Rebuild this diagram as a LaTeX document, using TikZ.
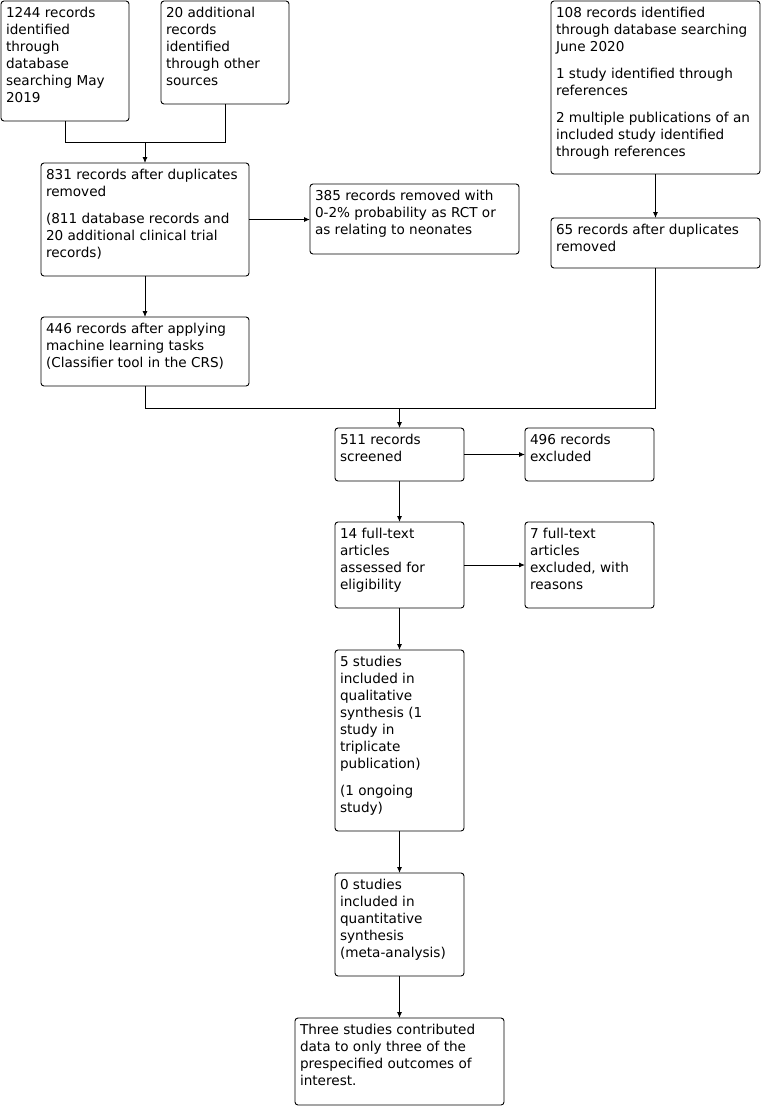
\documentclass[tikz,border=0pt]{standalone}
\usepackage{fontspec}
\setmainfont{DejaVu Sans}
\usetikzlibrary{arrows.meta}
\tikzset{
  pbox/.style={draw=black, line width=0.9pt, rounded corners=3pt, anchor=north west,
    inner sep=5pt, outer sep=0pt, font=\fontsize{13.6}{17}\selectfont},
  arr/.style={-{Latex[length=6pt,width=5pt]}},
  conn/.style={line width=0.9pt}
}
\newcommand\flowbox[6]{%
  \node[pbox] (#1) at (#2,#3)
    {\parbox[t][\dimexpr#5pt-10pt\relax][t]{\dimexpr#4pt-10pt\relax}{\raggedright\strut #6}};}
\begin{document}
\begin{tikzpicture}[x=1pt,y=-1pt]
\fill[white] (0,0) rectangle (763,1106);
\useasboundingbox (0,0) rectangle (763,1106);
\flowbox{A}{1}{1}{128}{120}{1244 records\\identified\\through\\database\\searching May\\2019}
\flowbox{B}{161}{1}{128}{103}{20 additional\\records\\identified\\through other\\sources}
\flowbox{C}{551}{1}{209}{173}{108 records identified\\through database searching\\June 2020\\[10pt]\strut 1 study identified through\\references\\[10pt]\strut 2 multiple publications of an\\included study identified\\through references}
\flowbox{D}{41}{163}{208}{113}{831 records after duplicates\\removed\\[10pt]\strut (811 database records and\\20 additional clinical trial\\records)}
\flowbox{E}{310}{184}{209}{70}{385 records removed with\\0-2\% probability as RCT or\\as relating to neonates}
\flowbox{F}{551}{218}{209}{50}{65 records after duplicates\\removed}
\flowbox{G}{41}{317}{208}{69}{446 records after applying\\machine learning tasks\\(Classifier tool in the CRS)}
\flowbox{H}{335}{428}{129}{53}{511 records\\screened}
\flowbox{I}{525}{428}{129}{53}{496 records\\excluded}
\flowbox{J}{335}{522}{129}{86}{14 full-text\\articles\\assessed for\\eligibility}
\flowbox{K}{525}{522}{129}{86}{7 full-text\\articles\\excluded, with\\reasons}
\flowbox{L}{335}{650}{129}{181}{5 studies\\included in\\qualitative\\synthesis (1\\study in\\triplicate\\publication)\\[10pt]\strut (1 ongoing\\study)}
\flowbox{M}{335}{873}{129}{103}{0 studies\\included in\\quantitative\\synthesis\\(meta-analysis)}
\flowbox{N}{295}{1018}{209}{87}{Three studies contributed\\data to only three of the\\prespecified outcomes of\\interest.}
% connectors
\draw[conn] (A.south) -- ++(0,21) coordinate (yA) -| (B.south);
\draw[conn,arr] (yA -| D.north) -- (D.north);
\draw[conn,arr] (D.east) -- (D.east -| E.west);
\draw[conn,arr] (D.south) -- (G.north);
\draw[conn,arr] (C.south) -- (F.north);
\draw[conn] (G.south) -- ++(0,22) coordinate (yG) -| (F.south);
\draw[conn,arr] (yG -| H.north) -- (H.north);
\draw[conn,arr] (H.east) -- (I.west);
\draw[conn,arr] (H.south) -- (J.north);
\draw[conn,arr] (J.east) -- (K.west);
\draw[conn,arr] (J.south) -- (L.north);
\draw[conn,arr] (L.south) -- (M.north);
\draw[conn,arr] (M.south) -- (N.north);
\end{tikzpicture}
\end{document}
